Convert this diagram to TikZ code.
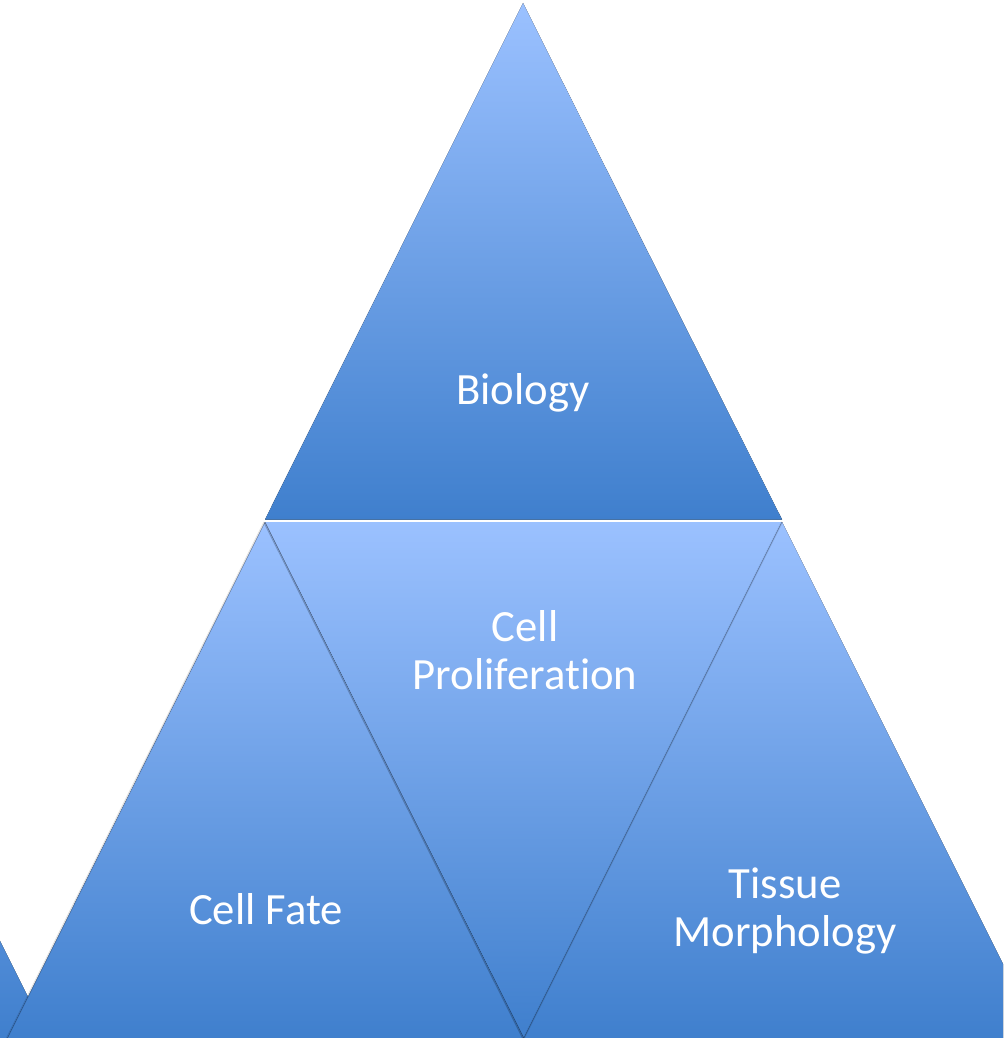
\documentclass[tikz,border=0pt]{standalone}
\usepackage{fontspec}
\setmainfont[Ligatures=NoCommon]{Carlito}
\definecolor{facetLight}{RGB}{155,193,255}
\definecolor{facetDark}{RGB}{63,127,205}
\tikzset{
  facet/.style={top color=facetLight, bottom color=facetDark, draw=none},
  facetEdge/.style={draw=black, draw opacity=0.22, line width=1.4},
  facetText/.style={anchor=center, inner sep=0.75pt, text=white, align=center,
    font=\fontsize{33.5}{36.5}\selectfont}
}
\begin{document}
\begin{tikzpicture}[x=0.75pt,y=0.75pt,yscale=-1,xscale=1]
\clip (0,0) rectangle (1003,1038);
%Shape: Triangle [top]
\fill[facet] (523,3) -- (782,519.5) -- (265,519.5) -- cycle;
%Shape: Triangle [far left]
\fill[facet] (-209,522) -- (49.5,1040) -- (-470,1040) -- cycle;
%Shape: Triangle [left]
\fill[facet] (265,522) -- (526,1040) -- (6.5,1040) -- cycle;
\draw[facetEdge, draw opacity=0.12] (264.5,522) -- (6,1040);
%Shape: Triangle [middle, inverted]
\fill[facet] (265,522) -- (782,522) -- (524,1038) -- cycle;
\draw[facetEdge] (264.5,522.5) -- (523.5,1039);
%Shape: Triangle [right]
\fill[facet] (782,522) -- (1041,1040) -- (523,1040) -- cycle;
\draw[facetEdge, draw opacity=0.1] (782,522) -- (523,1040);

% Text Node
\node[facetText] (biology) at (523,393) {Biology};
% Text Node
\node[facetText] (proliferation) at (525,650) {Cell\\Proliferation};
% Text Node
\node[facetText] (fate) at (266,909) {Cell Fate};
% Text Node
\node[facetText] (morphology) at (785,911) {Tissue\\Morphology};
\end{tikzpicture}
\end{document}
